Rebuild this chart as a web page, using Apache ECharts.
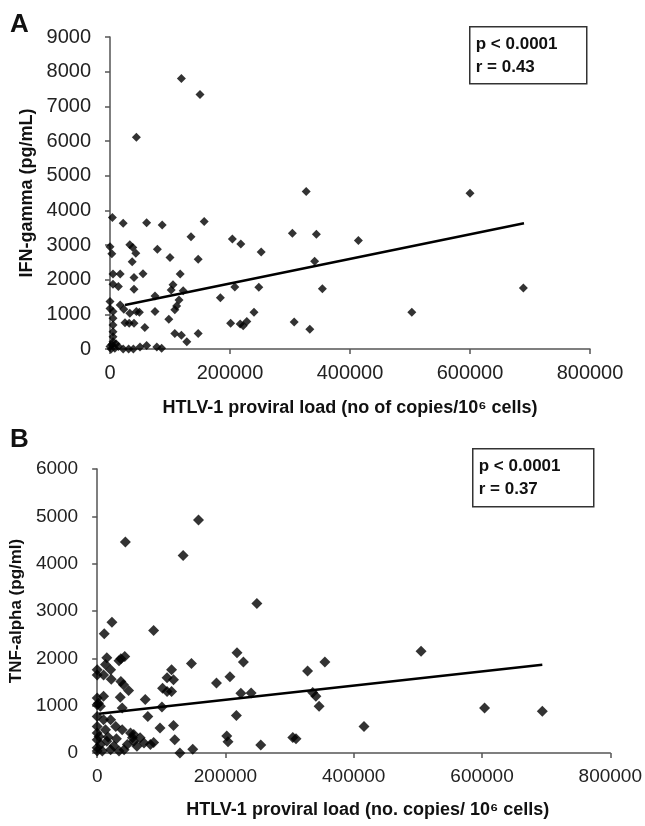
<!DOCTYPE html>
<html>
<head>
<meta charset="utf-8">
<title>HTLV-1 proviral load vs cytokines</title>
<script src="https://cdn.jsdelivr.net/npm/echarts@6/dist/echarts.min.js"></script>
<style>
  html, body { margin: 0; padding: 0; background: #fff; }
  #chart { width: 645px; height: 826px; }
</style>
</head>
<body>
<div id="chart"></div>
<script>
// Panel A: IFN-gamma vs proviral load
const loadA = [327000, 600000, 119000, 150000, 44000, 4000, 22000, 61000, 87000, 157000,
  135000, 204000, 218000, 252000, 304000, 344000, 414000, 341000, 354000, 503000,
  689000, 307000, 333000, 0, 3000, 33000, 38000, 43000, 37000, 79000,
  100000, 147000, 5000, 17000, 40000, 55000, 117000, 5000, 14000, 40000,
  105000, 102000, 122000, 75000, 184000, 208000, 248000, 0, 0, 17000,
  23000, 33000, 44000, 49000, 75000, 115000, 111000, 108000, 5000, 5000,
  5000, 5000, 5000, 5000, 25000, 32000, 40000, 58000, 98000, 108000,
  119000, 128000, 147000, 201000, 217000, 222000, 228000, 240000, 0, 8000,
  14000, 22000, 31000, 39000, 50000, 61000, 78000, 86000, 3000, 10000, 2000];
const ifnGamma = [4540, 4490, 7800, 7340, 6110, 3790, 3630, 3640, 3580, 3680,
  3240, 3170, 3030, 2800, 3340, 3310, 3130, 2530, 1740, 1060,
  1760, 780, 570, 2950, 2750, 3010, 2930, 2760, 2520, 2880,
  2640, 2590, 2160, 2160, 2060, 2170, 2160, 1870, 1800, 1720,
  1850, 1700, 1680, 1530, 1480, 1790, 1780, 1370, 1170, 1270,
  1150, 1030, 1080, 1060, 1080, 1410, 1240, 1130, 1080, 890,
  690, 500, 350, 210, 760, 740, 740, 620, 860, 450,
  400, 210, 450, 740, 720, 670, 790, 1060, 70, 20,
  70, 0, 0, 0, 60, 100, 60, 20, 130, 150, 0];
const trendA = [[25000, 1270], [690000, 3630]];
const statsA = ["p < 0.0001", "r = 0.43"];

// Panel B: TNF-alpha vs proviral load
const loadB = [158000, 44000, 134000, 249000, 88000, 23000, 11000, 147000, 218000, 228000,
  207000, 186000, 224000, 240000, 217000, 202000, 204000, 255000, 305000, 310000,
  328000, 355000, 336000, 341000, 346000, 505000, 416000, 604000, 694000, 129000,
  149000, 119000, 121000, 98000, 43000, 34000, 37000, 13000, 0, 0,
  10000, 22000, 37000, 41000, 49000, 36000, 0, 0, 5000, 39000,
  75000, 116000, 109000, 119000, 102000, 109000, 116000, 101000, 79000, 0,
  0, 0, 0, 0, 10000, 21000, 13000, 29000, 39000, 52000,
  55000, 57000, 47000, 62000, 73000, 83000, 88000, 8000, 21000, 34000,
  42000, 15000, 21000, 67000, 57000, 5000, 15000, 26000, 3000, 17000,
  30000, 0, 10000, 2000];
const tnfAlpha = [4920, 4460, 4170, 3160, 2590, 2760, 2520, 1890, 2120, 1920,
  1610, 1480, 1260, 1270, 790, 360, 240, 170, 330, 300,
  1730, 1920, 1280, 1200, 990, 2150, 560, 950, 880, 0,
  80, 580, 280, 530, 2040, 1950, 1990, 1870, 1760, 1650,
  1650, 1560, 1510, 1440, 1320, 1180, 1160, 1020, 990, 950,
  1130, 1760, 1590, 1550, 1370, 1300, 1300, 970, 770, 770,
  560, 420, 280, 110, 700, 700, 490, 560, 490, 420,
  320, 250, 180, 140, 210, 180, 220, 40, 70, 40,
  70, 2010, 1760, 320, 390, 180, 250, 150, 350, 340,
  300, 40, 1200, 1050];
const trendB = [[3000, 830], [694000, 1865]];
const statsB = ["p < 0.0001", "r = 0.37"];

const FONT = '"Liberation Sans", Arial, sans-serif';
const INK = "#111";
const AXIS = "#555";

const zip = (xs, ys) => xs.map((x, i) => [x, ys[i]]);
const plain = (v) => String(v);

const makeX = (gridIndex, name, labelSize, nameGap, namePad) => ({
  gridIndex,
  type: "value",
  min: 0,
  max: 800000,
  interval: 200000,
  name,
  nameLocation: "middle",
  nameGap,
  nameTextStyle: {
    fontFamily: FONT, fontWeight: "bold", fontSize: 18, color: INK,
    padding: [0, 0, 0, namePad],
  },
  axisLine: { onZero: false, lineStyle: { color: AXIS, width: 1.5 } },
  axisTick: { show: true, length: 5, lineStyle: { color: AXIS, width: 1.5 } },
  axisLabel: { fontFamily: FONT, fontSize: labelSize, color: "#222", margin: 14, formatter: plain },
  splitLine: { show: false },
});

const makeY = (gridIndex, name, max, nameSize, nameGap, labelSize) => ({
  gridIndex,
  type: "value",
  min: 0,
  max,
  interval: 1000,
  name,
  nameLocation: "middle",
  nameRotate: 90,
  nameGap,
  nameTextStyle: { fontFamily: FONT, fontWeight: "bold", fontSize: nameSize, color: INK },
  axisLine: { show: true, lineStyle: { color: AXIS, width: 1.5 } },
  axisTick: { show: true, length: 5, lineStyle: { color: AXIS, width: 1.5 } },
  axisLabel: { fontFamily: FONT, fontSize: labelSize, color: "#222", margin: 19, formatter: plain },
  splitLine: { show: false },
});

const statBox = (x, y, w, h, lines) => ({
  type: "group",
  left: x,
  top: y,
  children: [
    { type: "rect", shape: { x: 0, y: 0, width: w, height: h },
      style: { fill: "#fff", stroke: "#333", lineWidth: 1.5 } },
    { type: "text", x: 6, y: 6,
      style: { text: lines.join("\n"), font: `bold 17px ${FONT}`, lineHeight: 23, fill: INK } },
  ],
});

const chart = echarts.init(document.getElementById("chart"));

chart.setOption({
  backgroundColor: "#fff",
  animation: false,
  grid: [
    { left: 110, top: 37, width: 480, height: 312 },
    { left: 96, top: 469, width: 517, height: 284 },
  ],
  xAxis: [
    makeX(0, "HTLV-1 proviral load (no of copies/10\u2076 cells)", 20, 50, 0),
    makeX(1, "HTLV-1 proviral load (no. copies/ 10\u2076 cells)", 19, 48, 28),
  ],
  yAxis: [
    makeY(0, "IFN-gamma (pg/mL)", 9000, 18, 74, 20),
    makeY(1, "TNF-alpha (pg/ml)", 6000, 17, 68, 19),
  ],
  graphic: [
    { type: "text", left: 10, top: 12,
      style: { text: "A", font: `bold 26px ${FONT}`, fill: INK } },
    { type: "text", left: 10, top: 427,
      style: { text: "B", font: `bold 26px ${FONT}`, fill: INK } },
    statBox(469, 26, 117, 57, statsA),
    statBox(472, 448, 121, 58, statsB),
  ],
  series: [
    {
      type: "scatter",
      xAxisIndex: 0,
      yAxisIndex: 0,
      symbol: "diamond",
      symbolSize: 9,
      itemStyle: { color: "#000" },
      data: zip(loadA, ifnGamma),
    },
    {
      type: "line",
      xAxisIndex: 0,
      yAxisIndex: 0,
      symbol: "none",
      lineStyle: { color: "#000", width: 2.5 },
      data: trendA,
    },
    {
      type: "scatter",
      xAxisIndex: 1,
      yAxisIndex: 1,
      symbol: "diamond",
      symbolSize: 11,
      itemStyle: { color: "#000" },
      data: zip(loadB, tnfAlpha),
    },
    {
      type: "line",
      xAxisIndex: 1,
      yAxisIndex: 1,
      symbol: "none",
      lineStyle: { color: "#000", width: 2.5 },
      data: trendB,
    },
  ],
});
</script>
</body>
</html>
